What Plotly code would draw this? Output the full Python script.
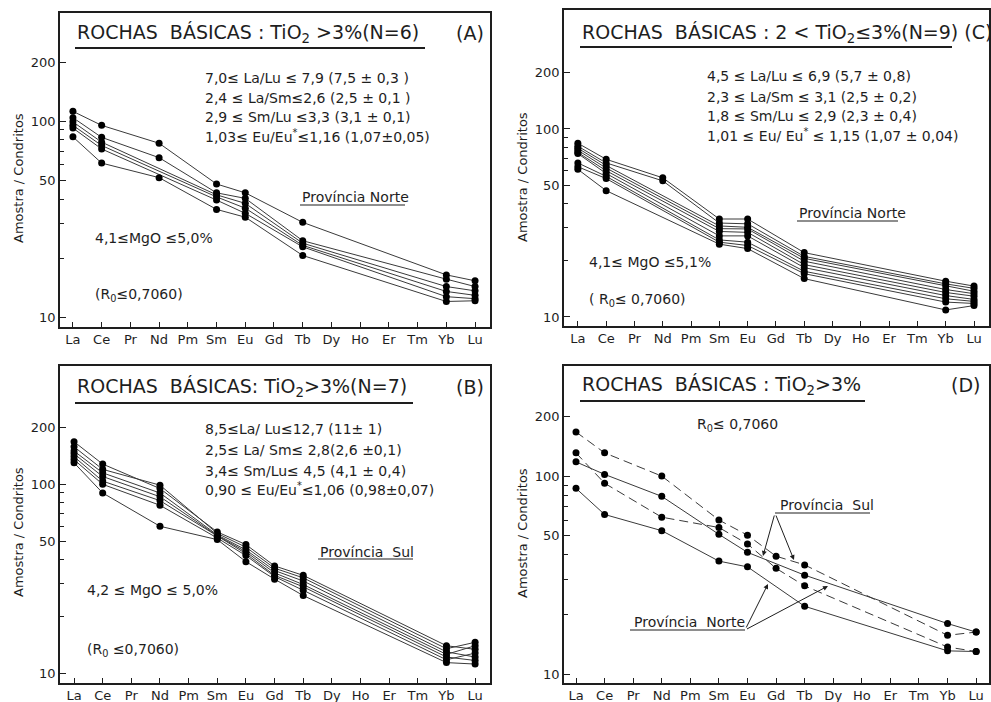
import plotly.graph_objects as go

W, H = 991, 702

ELEMENTS = ["La", "Ce", "Pr", "Nd", "Pm", "Sm", "Eu", "Gd", "Tb", "Dy", "Ho", "Er", "Tm", "Yb", "Lu"]

# Panel A - Província Norte, TiO2 > 3% (N=6)
A_ELEMS = ["La", "Ce", "Nd", "Sm", "Eu", "Tb", "Yb", "Lu"]
A_SAMPLES = [
    [112, 95, 77, 47.7, 43.0, 30.4, 16.4, 15.3],
    [104, 82.5, 65, 43.0, 40.3, 24.5, 15.6, 14.3],
    [99, 78, None, 42.0, 38.0, 23.8, 14.3, 13.6],
    [95, 75, None, 41.0, 35.9, 23.2, 13.5, 12.9],
    [92, 72, None, 39.5, 33.8, 22.8, 12.7, 12.4],
    [83, 61, 51.4, 35.4, 32.3, 20.6, 12.0, 12.1],
]

# Panel C - Província Norte, 2 < TiO2 <= 3% (N=9)
C_ELEMS = ["La", "Ce", "Nd", "Sm", "Eu", "Tb", "Yb", "Lu"]
C_SAMPLES = [
    [84, 69, 55, 33.2, 33.2, 22.0, 15.5, 14.6],
    [81, 66, 53, 31.6, 31.3, 21.0, 15.0, 14.2],
    [79, 64, None, 30.5, 30.0, 20.5, 14.6, 13.7],
    [77, 62, None, 29.5, 29.4, 19.8, 14.0, 13.3],
    [75, 60, None, 28.5, 28.2, 19.0, 13.5, 12.9],
    [74, 58, None, 27.0, 27.0, 18.3, 13.0, 12.4],
    [66, 56, None, 25.7, 25.0, 17.5, 12.5, 12.1],
    [63, 54.5, None, 25.0, 24.0, 17.0, 12.0, 11.8],
    [61, 47, None, 24.4, 23.1, 16.0, 10.9, 11.5],
]

# Panel B - Província Sul, TiO2 > 3% (N=7)
B_ELEMS = ["La", "Ce", "Nd", "Sm", "Eu", "Gd", "Tb", "Yb", "Lu"]
B_SAMPLES = [
    [168, 128, 95, 56, 48.0, 37.0, 33.0, 14.0, 13.4],
    [158, 120, 99, 55, 46.5, 36.0, 32.0, 13.5, 14.6],
    [150, 115, 90, 54, 45.0, 35.0, 30.8, 13.0, 12.2],
    [145, 110, 86, 53.5, 44.0, 34.0, 29.5, 12.6, 14.0],
    [140, 104, 82, 53, 43.0, 33.0, 28.7, 12.2, 11.7],
    [135, 100, 77.5, 52, 42.0, 32.5, 27.5, 11.8, 12.8],
    [130, 90, 60, 51, 39.0, 31.5, 25.8, 11.4, 11.2],
]

# Panel D - comparison (Sul dashed, Norte solid)
D_SUL_ELEMS = ["La", "Ce", "Nd", "Sm", "Eu", "Gd", "Tb", "Yb", "Lu"]
D_SUL = [
    [167, 131, 100, 60, 50.3, 39.4, 35.6, 15.7, 16.3],
    [131, 92, 62, 55, 45.4, 34.2, 27.9, 13.7, 13.0],
]
D_NORTE_ELEMS = ["La", "Ce", "Nd", "Sm", "Eu", "Tb", "Yb", "Lu"]
D_NORTE = [
    [118, 102, 79, 50.8, 41.2, 31.6, 18.0, 16.3],
    [86.7, 64, 53, 37.2, 34.8, 22.0, 13.1, 13.0],
]

Y_TICKS = [10, 50, 100, 200]
Y_MINOR = [20, 30, 40, 60, 70, 80, 90]

INK = "#1e1e1e"
FONT = "DejaVu Sans"

fig = go.Figure()


def px_x(p):
    return p / W


def px_y(p):
    return 1 - p / H


def add_series(elems, samples, xa, ya, dash="solid"):
    xs = [ELEMENTS.index(e) for e in elems]
    for s in samples:
        fig.add_trace(go.Scatter(
            x=xs, y=s, xaxis=xa, yaxis=ya, mode="lines+markers",
            connectgaps=True,
            line=dict(color="#3a3a3a", width=1, dash=dash),
            marker=dict(color="black", size=7),
            hoverinfo="skip",
        ))


add_series(A_ELEMS, A_SAMPLES, "x", "y")
add_series(C_ELEMS, C_SAMPLES, "x2", "y2")
add_series(B_ELEMS, B_SAMPLES, "x3", "y3")
add_series(D_SUL_ELEMS, D_SUL, "x4", "y4", dash="9px,5px")
add_series(D_NORTE_ELEMS, D_NORTE, "x4", "y4")

panels = {
    # name: (x px left, right, y px top, bottom, xrange, yrange)
    "1": (60, 490, 13, 327, [-0.45, 14.52], [0.949, 2.551]),
    "2": (564, 989, 10, 326, [-0.49, 14.53], [0.952, 2.633]),
    "3": (60, 490, 366, 683, [-0.49, 14.52], [0.949, 2.626]),
    "4": (564, 989, 366, 683, [-0.42, 14.45], [0.955, 2.556]),
}

layout = dict(
    width=W, height=H, margin=dict(l=0, r=0, t=0, b=0),
    paper_bgcolor="white", plot_bgcolor="white", showlegend=False,
    font=dict(family=FONT, color=INK, size=13),
)

for k, (l, r, t, b, xr, yr) in panels.items():
    xname = "xaxis" if k == "1" else f"xaxis{k}"
    yname = "yaxis" if k == "1" else f"yaxis{k}"
    xid = "x" if k == "1" else f"x{k}"
    yid = "y" if k == "1" else f"y{k}"
    layout[xname] = dict(
        domain=[px_x(l), px_x(r)], anchor=yid, range=xr,
        tickmode="array", tickvals=list(range(len(ELEMENTS))), ticktext=ELEMENTS,
        ticks="inside", ticklen=5, tickwidth=1, tickcolor=INK,
        showline=True, mirror=True, linecolor=INK, linewidth=1.5,
        showgrid=False, zeroline=False, tickfont=dict(size=13, family=FONT),
    )
    layout[yname] = dict(
        domain=[px_y(b), px_y(t)], anchor=xid, type="log", range=yr,
        tickmode="array", tickvals=Y_TICKS, ticktext=[str(v) for v in Y_TICKS],
        ticks="inside", ticklen=6, tickwidth=1, tickcolor=INK,
        minor=dict(tickmode="array", tickvals=Y_MINOR, ticks="inside", ticklen=4, tickcolor=INK),
        showline=True, mirror=True, linecolor=INK, linewidth=1.5,
        showgrid=False, zeroline=False, tickfont=dict(size=13, family=FONT),
    )

fig.update_layout(**layout)

ann = []
shapes = []


def txt(x, y, s, size=14, anchor="left", angle=0):
    ann.append(dict(
        x=px_x(x), y=px_y(y), xref="paper", yref="paper", text=s, showarrow=False,
        xanchor=anchor, yanchor="middle", textangle=angle,
        font=dict(size=size, family=FONT, color=INK),
    ))


def hline(x0, x1, y, w=1.5):
    shapes.append(dict(type="line", xref="paper", yref="paper",
                       x0=px_x(x0), x1=px_x(x1), y0=px_y(y), y1=px_y(y),
                       line=dict(color=INK, width=w)))


def arrow(x0, y0, x1, y1):
    ann.append(dict(
        x=px_x(x1), y=px_y(y1), xref="paper", yref="paper",
        ax=x0 - x1, ay=y0 - y1, axref="pixel", ayref="pixel",
        text=" ", showarrow=True, arrowhead=2, arrowsize=1, arrowwidth=1, arrowcolor=INK,
        font=dict(size=2),
    ))


# Y axis titles
for (x, y) in [(18, 178), (522, 177), (18, 532), (522, 533)]:
    txt(x, y, "Amostra / Condritos", size=13, anchor="center", angle=-90)

# Panel A
txt(75, 33, "ROCHAS  BÁSICAS : TiO<sub>2</sub> >3%(N=6)", size=19)
hline(75, 425, 48, 2)
txt(470, 33, "(A)", size=19, anchor="center")
txt(203, 78, "7,0≤ La/Lu ≤ 7,9 (7,5 ± 0,3 )")
txt(203, 98, "2,4 ≤ La/Sm≤2,6 (2,5 ± 0,1 )")
txt(203, 117, "2,9 ≤ Sm/Lu ≤3,3 (3,1 ± 0,1)")
txt(203, 136, "1,03≤ Eu/Eu<sup>*</sup>≤1,16 (1,07±0,05)")
txt(300, 197, "Província Norte")
hline(300, 405, 205, 1.2)
txt(93, 238, "4,1≤MgO ≤5,0%")
txt(93, 295, "(R<sub>0</sub>≤0,7060)")

# Panel C
txt(580, 33, "ROCHAS  BÁSICAS : 2 < TiO<sub>2</sub>≤3%(N=9) (C)", size=19)
hline(580, 952, 47, 2)
txt(705, 76, "4,5 ≤ La/Lu ≤ 6,9 (5,7 ± 0,8)")
txt(705, 97, "2,3 ≤ La/Sm ≤ 3,1 (2,5 ± 0,2)")
txt(705, 116, "1,8 ≤ Sm/Lu ≤ 2,9 (2,3 ± 0,4)")
txt(705, 135, "1,01 ≤ Eu/ Eu<sup>*</sup> ≤ 1,15 (1,07 ± 0,04)")
txt(797, 213, "Província Norte")
hline(797, 898, 221, 1.2)
txt(587, 262, "4,1≤ MgO ≤5,1%")
txt(587, 300, "( R<sub>0</sub>≤ 0,7060)")

# Panel B
txt(75, 387, "ROCHAS  BÁSICAS: TiO<sub>2</sub>>3%(N=7)", size=19)
hline(75, 413, 403, 2)
txt(470, 387, "(B)", size=19, anchor="center")
txt(203, 429, "8,5≤La/ Lu≤12,7 (11± 1)")
txt(203, 450, "2,5≤ La/ Sm≤ 2,8(2,6 ±0,1)")
txt(203, 471, "3,4≤ Sm/Lu≤ 4,5 (4,1 ± 0,4)")
txt(203, 489, "0,90 ≤ Eu/Eu<sup>*</sup>≤1,06 (0,98±0,07)")
txt(318, 552, "Província  Sul")
hline(318, 413, 559, 1.2)
txt(85, 590, "4,2 ≤ MgO ≤ 5,0%")
txt(85, 650, "(R<sub>0</sub> ≤0,7060)")

# Panel D
txt(580, 385, "ROCHAS  BÁSICAS : TiO<sub>2</sub>>3%", size=19)
hline(580, 865, 401, 2)
txt(965, 385, "(D)", size=19, anchor="center")
txt(695, 425, "R<sub>0</sub>≤ 0,7060")
txt(778, 505, "Província  Sul")
hline(775, 870, 513, 1.2)
arrow(775, 513, 763, 556)
arrow(775, 513, 794, 560)
txt(632, 622, "Província  Norte")
hline(630, 745, 630, 1.2)
arrow(745, 630, 768, 584)
arrow(745, 630, 828, 586)

fig.update_layout(annotations=ann, shapes=shapes)

fig.write_html(
    "out.html",
    config={"displayModeBar": False},
    post_script="document.body.style.margin='0';document.body.style.overflow='hidden';",
)
